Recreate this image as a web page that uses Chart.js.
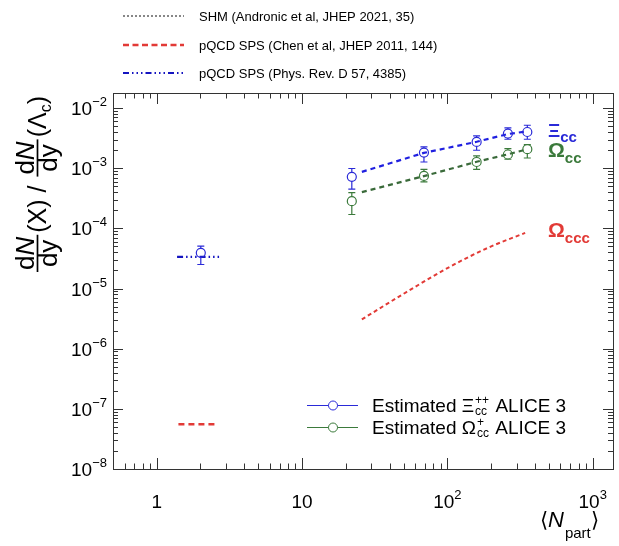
<!DOCTYPE html>
<html>
<head>
<meta charset="utf-8">
<script src="https://cdn.jsdelivr.net/npm/chart.js@4/dist/chart.umd.min.js"></script>
<style>
  html, body { margin: 0; padding: 0; background: #fff; }
  canvas { display: block; }
</style>
</head>
<body>
<canvas id="chart" width="619" height="546"></canvas>
<script>
// estimated ALICE 3 points vs <Npart>
const nPartMeasured = [22, 69, 159, 261, 355]
const xiccEstimate = [7.2e-4, 1.82e-3, 2.74e-3, 3.77e-3, 4.0e-3]
const xiccErrLow = [4.5e-4, 1.27e-3, 1.99e-3, 3.03e-3, 3.03e-3]
const xiccErrHigh = [9.9e-4, 2.26e-3, 3.44e-3, 4.68e-3, 5.18e-3]
const omegaccEstimate = [2.83e-4, 7.45e-4, 1.27e-3, 1.69e-3, 2.07e-3]
const omegaccErrLow = [1.7e-4, 5.92e-4, 9.6e-4, 1.41e-3, 1.48e-3]
const omegaccErrHigh = [3.94e-4, 9.6e-4, 1.6e-3, 2.12e-3, 2.48e-3]

// SHM curves
const nPartShm = [25.8, 69, 159, 261, 355]
const xiccShm = [8.7e-4, 1.8e-3, 2.75e-3, 3.7e-3, 4.1e-3]
const omegaccShm = [4.0e-4, 7.4e-4, 1.28e-3, 1.7e-3, 2.07e-3]

// pQCD (Chen et al) Omega_ccc
const nPartChen = [25.8, 52.6, 104, 197, 343]
const omegacccChen = [3.07e-6, 8.8e-6, 2.3e-5, 4.93e-5, 8.4e-5]
const nPartChenPp = [1.41, 2.65]
const omegacccChenPp = [5.53e-8, 5.53e-8]

// pp reference point and PRD 57 band
const nPartPp = [2.01]
const xiccPp = [3.92e-5]
const xiccPpErrLow = [2.51e-5]
const xiccPpErrHigh = [5.06e-5]
const nPartPrd = [1.38, 2.73]
const xiccPrd = [3.37e-5, 3.37e-5]

const xDecades = [0, 1, 2, 3]
const yDecades = [-8, -7, -6, -5, -4, -3, -2]
const legendTop = [
  'SHM (Andronic et al, JHEP 2021, 35)',
  'pQCD SPS (Chen et al, JHEP 2011, 144)',
  'pQCD SPS (Phys. Rev. D 57, 4385)',
]

const BLUE = '#2a2ad8'
const GREEN = '#3b7a3b'
const RED = '#e23a36'
const FONT = '"Liberation Sans", Arial, Helvetica, sans-serif'

const toPoints = (xs, ys) => xs.map((x, i) => ({ x: x, y: ys[i] }))

const errorBars = [
  { ds: 0, lo: xiccErrLow, hi: xiccErrHigh, color: BLUE },
  { ds: 1, lo: omegaccErrLow, hi: omegaccErrHigh, color: GREEN },
  { ds: 2, lo: xiccPpErrLow, hi: xiccPpErrHigh, color: BLUE },
]

function drawScript(ctx, x, y, parts) {
  // parts: [text, size, dy, style]
  let cx = x
  parts.forEach((p) => {
    ctx.font = (p[3] || '') + ' ' + p[1] + 'px ' + FONT
    ctx.fillText(p[0], cx, y + (p[2] || 0))
    cx += ctx.measureText(p[0]).width
  })
  return cx
}

const rootFrame = {
  id: 'rootFrame',
  afterDatasetsDraw(chart) {
    const ctx = chart.ctx
    const ys = chart.scales.y
    ctx.save()
    errorBars.forEach((eb) => {
      const meta = chart.getDatasetMeta(eb.ds)
      ctx.strokeStyle = eb.color
      ctx.lineWidth = 1.2
      meta.data.forEach((pt, i) => {
        const px = pt.x
        const py = pt.y
        const yHi = ys.getPixelForValue(eb.hi[i])
        const yLo = ys.getPixelForValue(eb.lo[i])
        ctx.beginPath()
        if (py - 4.5 > yHi) {
          ctx.moveTo(px, py - 4.5)
          ctx.lineTo(px, yHi)
        }
        if (py + 4.5 < yLo) {
          ctx.moveTo(px, py + 4.5)
          ctx.lineTo(px, yLo)
        }
        ctx.moveTo(px - 3.5, yHi)
        ctx.lineTo(px + 3.5, yHi)
        ctx.moveTo(px - 3.5, yLo)
        ctx.lineTo(px + 3.5, yLo)
        ctx.stroke()
      })
    })
    ctx.restore()
  },
  afterDraw(chart) {
    const ctx = chart.ctx
    const a = chart.chartArea
    const xs = chart.scales.x
    const ys = chart.scales.y
    ctx.save()
    ctx.strokeStyle = '#333'
    ctx.lineWidth = 1
    ctx.strokeRect(a.left + 0.5, a.top + 0.5, a.right - a.left, a.bottom - a.top)

    // ticks, log style, inward on all four sides
    ctx.beginPath()
    for (let d = -1; d <= 3; d++) {
      for (let k = 1; k <= 9; k++) {
        const v = k * Math.pow(10, d)
        if (v < xs.min || v > xs.max) continue
        const px = Math.round(xs.getPixelForValue(v)) + 0.5
        const len = k === 1 ? 11 : 5.5
        ctx.moveTo(px, a.bottom)
        ctx.lineTo(px, a.bottom - len)
        ctx.moveTo(px, a.top)
        ctx.lineTo(px, a.top + len)
      }
    }
    for (let d = -8; d <= -2; d++) {
      for (let k = 1; k <= 9; k++) {
        const v = k * Math.pow(10, d)
        if (v < ys.min * 0.999 || v > ys.max) continue
        const py = Math.round(ys.getPixelForValue(v)) + 0.5
        const len = k === 1 ? 10 : 5
        ctx.moveTo(a.left, py)
        ctx.lineTo(a.left + len, py)
        ctx.moveTo(a.right, py)
        ctx.lineTo(a.right - len, py)
      }
    }
    ctx.stroke()

    // tick labels
    ctx.fillStyle = '#000'
    ctx.textBaseline = 'alphabetic'
    xDecades.forEach((d) => {
      const px = xs.getPixelForValue(Math.pow(10, d))
      ctx.font = '19px ' + FONT
      if (d === 0 || d === 1) {
        const t = d === 0 ? '1' : '10'
        ctx.textAlign = 'center'
        ctx.fillText(t, px, 508)
      } else {
        const w1 = ctx.measureText('10').width
        ctx.font = '13px ' + FONT
        const w2 = ctx.measureText(String(d)).width
        ctx.textAlign = 'left'
        drawScript(ctx, px - (w1 + w2) / 2, 508, [['10', 19, 0], [String(d), 13, -9]])
      }
    })
    ctx.textAlign = 'left'
    yDecades.forEach((d) => {
      const py = ys.getPixelForValue(Math.pow(10, d))
      ctx.font = '13px ' + FONT
      const w2 = ctx.measureText('\u2212' + Math.abs(d)).width
      ctx.font = '19px ' + FONT
      const w1 = ctx.measureText('10').width
      drawScript(ctx, 107 - w1 - w2, py + 7, [['10', 19, 0], ['\u2212' + Math.abs(d), 13, -9]])
    })

    // x title
    ctx.fillStyle = '#000'
    let cx = drawScript(ctx, 540, 527, [['\u27E8', 21, 0], ['N', 22, 0, 'italic']])
    cx = drawScript(ctx, cx + 1, 538, [['part', 15, 0]])
    drawScript(ctx, cx, 527, [['\u27E9', 21, 0]])

    // y title, rotated
    ctx.save()
    ctx.rotate(-Math.PI / 2)
    const fs = 26
    const frac = (u0) => {
      ctx.font = fs + 'px ' + FONT
      const wd = ctx.measureText('d').width
      ctx.font = 'italic ' + fs + 'px ' + FONT
      const wN = ctx.measureText('N').width
      ctx.font = fs + 'px ' + FONT
      const wdy = ctx.measureText('dy').width
      const w = Math.max(wd + wN, wdy) + 4
      drawScript(ctx, u0 + (w - wd - wN) / 2, 34, [['d', fs, 0], ['N', fs, 0, 'italic']])
      drawScript(ctx, u0 + (w - wdy) / 2, 57, [['dy', fs, 0]])
      ctx.beginPath()
      ctx.lineWidth = 1.7
      ctx.strokeStyle = '#000'
      ctx.moveTo(u0, 37.5)
      ctx.lineTo(u0 + w, 37.5)
      ctx.stroke()
      return u0 + w
    }
    let u = -272
    u = frac(u)
    u = drawScript(ctx, u + 2, 46, [['(X) / ', 25, 0]])
    u = frac(u + 2)
    u = drawScript(ctx, u + 2, 46, [['(\u039B', 25, 0]])
    u = drawScript(ctx, u, 51, [['c', 16, 0]])
    drawScript(ctx, u, 46, [[')', 25, 0]])
    ctx.restore()

    // species labels
    ctx.textAlign = 'left'
    ctx.fillStyle = BLUE
    cx = drawScript(ctx, 548, 137, [['\u039E', 19, 0, 'bold']])
    drawScript(ctx, cx, 142, [['cc', 15, 0, 'bold']])
    ctx.fillStyle = GREEN
    cx = drawScript(ctx, 548, 157, [['\u03A9', 21, 0, 'bold']])
    drawScript(ctx, cx, 163, [['cc', 15, 0, 'bold']])
    ctx.fillStyle = RED
    cx = drawScript(ctx, 548, 237, [['\u03A9', 21, 0, 'bold']])
    drawScript(ctx, cx, 243, [['ccc', 15, 0, 'bold']])

    // legend inside the frame
    const inLegend = [
      { color: BLUE, sym: '\u039E', sup: '++', y: 405 },
      { color: GREEN, sym: '\u03A9', sup: '+', y: 427 },
    ]
    inLegend.forEach((e) => {
      ctx.strokeStyle = e.color
      ctx.lineWidth = 1
      ctx.beginPath()
      ctx.moveTo(307, e.y + 0.5)
      ctx.lineTo(328.5, e.y + 0.5)
      ctx.moveTo(337.5, e.y + 0.5)
      ctx.lineTo(358, e.y + 0.5)
      ctx.stroke()
      ctx.beginPath()
      ctx.arc(333, e.y + 0.5, 4.5, 0, Math.PI * 2)
      ctx.stroke()
      ctx.fillStyle = '#000'
      let tx = drawScript(ctx, 372, e.y + 7, [['Estimated ' + e.sym, 19, 0]])
      ctx.font = '12px ' + FONT
      const ws = ctx.measureText(e.sup).width
      const wc = ctx.measureText('cc').width
      ctx.fillText(e.sup, tx + 1, e.y - 1)
      ctx.fillText('cc', tx + 1, e.y + 10)
      tx += Math.max(ws, wc) + 2
      drawScript(ctx, tx, e.y + 7, [[' ALICE 3', 19, 0]])
    })

    // legend above the frame
    const topStyles = [
      { color: '#111', dash: [2, 2], width: 1.2 },
      { color: RED, dash: [6, 3.5], width: 2.5 },
      { color: '#1414c0', dash: [6, 3, 1.5, 3, 1.5, 3, 1.5, 3], width: 2 },
    ]
    const topRows = [16, 45, 73]
    legendTop.forEach((t, i) => {
      const st = topStyles[i]
      ctx.strokeStyle = st.color
      ctx.lineWidth = st.width
      ctx.setLineDash(st.dash)
      ctx.beginPath()
      ctx.moveTo(123, topRows[i])
      ctx.lineTo(184, topRows[i])
      ctx.stroke()
      ctx.setLineDash([])
      ctx.fillStyle = '#000'
      ctx.font = '13px ' + FONT
      ctx.fillText(t, 199, topRows[i] + 5)
    })
    ctx.restore()
  },
}

const config = {
  type: 'scatter',
  data: {
    datasets: [
      {
        label: 'Estimated Xi_cc++ ALICE 3',
        data: toPoints(nPartMeasured, xiccEstimate),
        borderColor: BLUE,
        backgroundColor: 'transparent',
        pointRadius: 4.5,
        pointBorderWidth: 1.2,
        showLine: false,
      },
      {
        label: 'Estimated Omega_cc+ ALICE 3',
        data: toPoints(nPartMeasured, omegaccEstimate),
        borderColor: GREEN,
        backgroundColor: 'transparent',
        pointRadius: 4.5,
        pointBorderWidth: 1.2,
        showLine: false,
      },
      {
        label: 'pp',
        data: toPoints(nPartPp, xiccPp),
        borderColor: BLUE,
        backgroundColor: 'transparent',
        pointRadius: 4.5,
        pointBorderWidth: 1.2,
        showLine: false,
      },
      {
        label: 'SHM Xi_cc',
        data: toPoints(nPartShm, xiccShm),
        borderColor: '#2020e0',
        borderWidth: 2.2,
        borderDash: [5, 4],
        pointRadius: 0,
        showLine: true,
      },
      {
        label: 'SHM Omega_cc',
        data: toPoints(nPartShm, omegaccShm),
        borderColor: '#3a6a3a',
        borderWidth: 2.2,
        borderDash: [5, 4],
        pointRadius: 0,
        showLine: true,
      },
      {
        label: 'pQCD Chen Omega_ccc',
        data: toPoints(nPartChen, omegacccChen),
        borderColor: RED,
        borderWidth: 2,
        borderDash: [4, 3],
        pointRadius: 0,
        showLine: true,
        cubicInterpolationMode: 'monotone',
      },
      {
        label: 'pQCD Chen pp',
        data: toPoints(nPartChenPp, omegacccChenPp),
        borderColor: RED,
        borderWidth: 2.5,
        borderDash: [6, 4],
        pointRadius: 0,
        showLine: true,
      },
      {
        label: 'pQCD PRD 57',
        data: toPoints(nPartPrd, xiccPrd),
        borderColor: '#1414c0',
        borderWidth: 2.2,
        borderDash: [6, 3, 1.5, 3, 1.5, 3, 1.5, 3],
        pointRadius: 0,
        showLine: true,
      },
    ],
  },
  options: {
    responsive: false,
    animation: false,
    layout: { padding: { left: 113, right: 6, top: 93, bottom: 77 } },
    scales: {
      x: { type: 'logarithmic', min: 0.5, max: 1380, display: false },
      y: { type: 'logarithmic', min: 1e-8, max: 0.0178, display: false },
    },
    plugins: {
      legend: { display: false },
      tooltip: { enabled: false },
    },
  },
  plugins: [rootFrame],
}

new Chart(document.getElementById('chart'), config)
</script>
</body>
</html>
